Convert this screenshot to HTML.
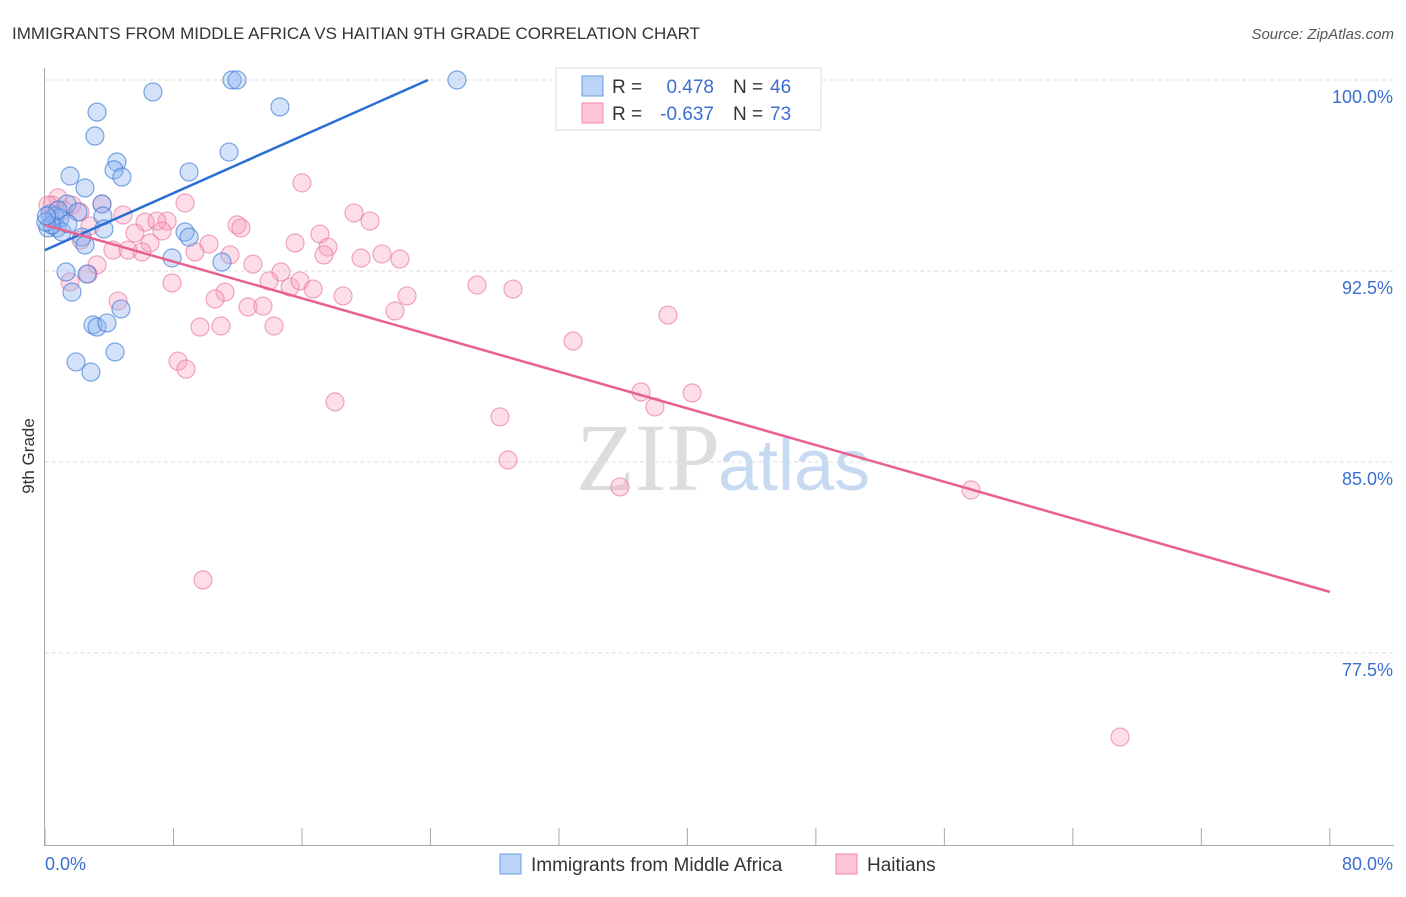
<!DOCTYPE html>
<html><head><meta charset="utf-8"><style>
body{margin:0;background:#fff;font-family:"Liberation Sans",sans-serif}
</style></head><body>
<svg id="c" width="1406" height="892" xmlns="http://www.w3.org/2000/svg" style="font-family:'Liberation Sans',sans-serif">
<text x="12" y="39" font-size="17" fill="#333">IMMIGRANTS FROM MIDDLE AFRICA VS HAITIAN 9TH GRADE CORRELATION CHART</text>
<text x="1394" y="39" font-size="15" fill="#555" text-anchor="end" font-style="italic">Source: ZipAtlas.com</text>
<text x="34" y="456" font-size="17" fill="#333" text-anchor="middle" transform="rotate(-90 34 456)">9th Grade</text>
<g id="grid"></g>
<g id="ticks"></g>
<text x="720" y="490" font-size="96" fill="#ddd" text-anchor="end" font-family="Liberation Serif">ZIP</text>
<text x="718" y="490" font-size="72" fill="#c8daf2">atlas</text>
<g id="pts"></g>
<g id="lines"></g>
<g>
<rect x="556" y="68" width="265" height="62" fill="#fff" stroke="#ddd"/>
<rect x="582" y="76" width="21" height="20" fill="#bcd4f6" stroke="#6a9be0"/>
<rect x="582" y="103" width="21" height="20" fill="#fcc6d6" stroke="#f08aa8"/>
<text x="612" y="93" font-size="19" fill="#333">R = </text><text x="714" y="93" font-size="19" fill="#3a6fd1" text-anchor="end">0.478</text>
<text x="733" y="93" font-size="19" fill="#333">N = </text><text x="770" y="93" font-size="19" fill="#3a6fd1">46</text>
<text x="612" y="120" font-size="19" fill="#333">R = </text><text x="714" y="120" font-size="19" fill="#3a6fd1" text-anchor="end">-0.637</text>
<text x="733" y="120" font-size="19" fill="#333">N = </text><text x="770" y="120" font-size="19" fill="#3a6fd1">73</text>
</g>
<g>
<rect x="500" y="854" width="21" height="20" fill="#bcd4f6" stroke="#6a9be0"/>
<text x="531" y="871" font-size="19" fill="#333">Immigrants from Middle Africa</text>
<rect x="836" y="854" width="21" height="20" fill="#fcc6d6" stroke="#f08aa8"/>
<text x="867" y="871" font-size="19" fill="#333">Haitians</text>
</g>
</svg>
<script>
const blueX=[6.72,11.64,11.96,25.65,3.24,14.63,3.11,11.46,4.48,4.30,4.79,1.56,8.97,2.49,3.55,1.37,2.05,0.31,0.62,0.93,0.19,0.75,1.06,3.61,3.67,2.30,2.49,8.72,8.97,7.91,11.02,1.31,2.62,1.68,4.73,2.99,3.24,3.86,4.36,1.93,2.86,0.44,0.05,0.81,0.1,1.43];
const blueY=[99.53,100,100,100,98.74,98.94,97.80,97.17,96.78,96.47,96.19,96.23,96.39,95.76,95.13,95.13,94.82,94.74,94.66,94.58,94.19,94.19,94.03,94.66,94.15,93.83,93.52,94.03,93.83,93.01,92.85,92.46,92.38,91.67,91.01,90.38,90.30,90.46,89.32,88.93,88.53,94.31,94.42,94.89,94.66,94.35];
const pinkX=[32.38,0.81,0.44,1.18,1.68,3.55,4.86,8.72,16.00,19.24,20.24,11.96,12.20,6.23,7.60,6.97,5.60,7.29,10.21,6.54,4.23,5.17,6.04,9.34,11.52,15.57,17.12,17.62,17.37,19.68,20.98,22.10,12.95,14.69,13.95,15.26,15.88,16.69,18.56,22.54,26.90,29.14,7.91,11.21,10.59,12.64,13.57,21.79,9.65,10.96,14.26,4.55,3.24,2.68,1.56,2.24,2.80,32.88,38.79,37.11,40.29,37.98,28.33,18.06,8.28,8.78,28.83,35.80,57.66,9.84,66.94,0.19,2.18];
const pinkY=[100,95.37,95.09,94.89,95.09,95.13,94.70,95.17,95.96,94.78,94.46,94.31,94.19,94.42,94.46,94.46,93.99,94.07,93.56,93.60,93.32,93.32,93.25,93.25,93.13,93.60,93.95,93.44,93.13,93.01,93.17,92.97,92.77,92.46,92.11,91.87,92.11,91.79,91.52,91.52,91.95,91.79,92.03,91.67,91.40,91.09,91.12,90.93,90.30,90.34,90.34,91.32,92.74,92.38,92.07,93.72,94.27,89.75,90.77,87.75,87.71,87.16,86.77,87.36,88.96,88.65,85.08,84.02,83.90,80.37,74.20,95.09,94.82];
const yTicks=[100,92.5,85,77.5];
const yTickLabels=["100.0%","92.5%","85.0%","77.5%"];
const blueTrend=[[0,93.32],[23.85,100]];
const pinkTrend=[[0,94.31],[80,79.9]];
const NS="http://www.w3.org/2000/svg";
const X=v=>45+v*16.06, Y=v=>80+(100-v)*191/7.5;
function mk(t,a,p){const e=document.createElementNS(NS,t);for(const k in a)e.setAttribute(k,a[k]);p.appendChild(e);return e;}
const grid=document.getElementById('grid'),ticks=document.getElementById('ticks'),pts=document.getElementById('pts'),lines=document.getElementById('lines');
yTicks.forEach((t,i)=>{
 const l=mk('line',{x1:45,x2:1394,y1:Y(t),y2:Y(t),stroke:'#ddd','stroke-dasharray':'4 3'},grid);
 
 
 const tx=mk('text',{x:1393,y:Y(t)+23,'font-size':18,fill:'#3a6fd1','text-anchor':'end'},ticks);tx.textContent=yTickLabels[i];
 
 
});
mk('line',{x1:44.5,x2:44.5,y1:68,y2:845,stroke:'#aaa'},ticks);
mk('line',{x1:44,x2:1394,y1:845.5,y2:845.5,stroke:'#aaa'},ticks);
for(let i=0;i<=10;i++){mk('line',{x1:X(i*8),x2:X(i*8),y1:828,y2:845,stroke:'#aaa'},ticks);}
let t0=mk('text',{x:45,y:870,'font-size':18,fill:'#3a6fd1'},ticks);t0.textContent='0.0%';


let t1=mk('text',{x:1393,y:870,'font-size':18,fill:'#3a6fd1','text-anchor':'end'},ticks);t1.textContent='80.0%';


pinkX.forEach((x,i)=>{const c=mk('circle',{cx:X(x),cy:Y(pinkY[i]),r:9,fill:'rgba(248,160,188,0.35)',stroke:'rgba(232,110,150,0.6)','stroke-width':1.2},pts);
 
 });
blueX.forEach((x,i)=>{const c=mk('circle',{cx:X(x),cy:Y(blueY[i]),r:9,fill:'rgba(140,180,240,0.38)',stroke:'rgba(60,120,215,0.65)','stroke-width':1.2},pts);
 
 });
const bl=mk('line',{x1:X(blueTrend[0][0]),y1:Y(blueTrend[0][1]),x2:X(blueTrend[1][0]),y2:Y(blueTrend[1][1]),stroke:'#2a6fd6','stroke-width':2.5},lines);


const pl=mk('line',{x1:X(pinkTrend[0][0]),y1:Y(pinkTrend[0][1]),x2:X(pinkTrend[1][0]),y2:Y(pinkTrend[1][1]),stroke:'#e8608e','stroke-width':2.5},lines);


</script>
</body></html>
